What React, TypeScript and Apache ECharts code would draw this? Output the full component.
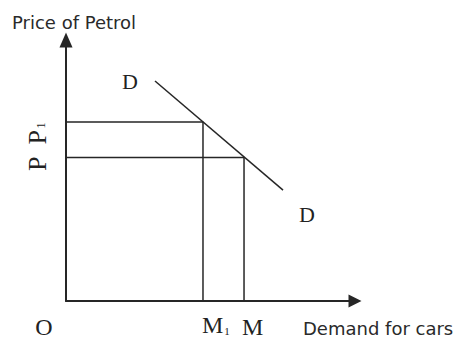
import React, { useEffect, useRef } from "react";
import * as echarts from "echarts";

// Data (abstract units on hidden value axes, 0..10)
const demandX = [3.08, 7.51];
const demandY = [8.43, 4.25];
const quantityLevels = [4.74, 6.16]; // M1, M
const priceLevels = [6.86, 5.5]; // P1, P
const axisMax = 10;

const LINE = "#262626";
const SERIF = "'Liberation Serif', 'Times New Roman', serif";
const SANS = "'DejaVu Sans', sans-serif";

export default function App() {
  const ref = useRef<HTMLDivElement>(null);
  useEffect(() => {
    if (!ref.current) return;
    const chart = echarts.init(ref.current, undefined, { renderer: "svg" });
    const guide = (i: number) => [
      [0, priceLevels[i]],
      [quantityLevels[i], priceLevels[i]],
      [quantityLevels[i], 0],
    ];
    chart.setOption({
      animation: false,
      backgroundColor: "#ffffff",
      grid: { left: 66, right: 103, top: 40, bottom: 38 },
      xAxis: {
        type: "value",
        min: 0,
        max: axisMax,
        splitLine: { show: false },
        axisTick: { show: false },
        axisLabel: { show: false },
        axisLine: {
          show: true,
          symbol: ["none", "triangle"],
          symbolSize: [13, 13],
          lineStyle: { color: LINE, width: 2 },
        },
      },
      yAxis: {
        type: "value",
        min: 0,
        max: axisMax,
        splitLine: { show: false },
        axisTick: { show: false },
        axisLabel: { show: false },
        axisLine: {
          show: true,
          symbol: ["none", "triangle"],
          symbolSize: [13, 15],
          lineStyle: { color: LINE, width: 2 },
        },
      },
      series: [
        {
          type: "line",
          data: demandX.map((x, i) => [x, demandY[i]]),
          symbol: "none",
          lineStyle: { color: LINE, width: 1.5 },
        },
        {
          type: "line",
          data: guide(0),
          symbol: "none",
          lineStyle: { color: LINE, width: 1.5 },
        },
        {
          type: "line",
          data: guide(1),
          symbol: "none",
          lineStyle: { color: LINE, width: 1.5 },
        },
      ],
      graphic: [
        {
          type: "text",
          x: 12,
          y: 22,
          style: {
            text: "Price of Petrol",
            font: `18px ${SANS}`,
            fill: "#2a2a2a",
            align: "left",
            verticalAlign: "middle",
          },
        },
        {
          type: "text",
          x: 303,
          y: 328,
          style: {
            text: "Demand for cars",
            font: `18px ${SANS}`,
            fill: "#2a2a2a",
            align: "left",
            verticalAlign: "middle",
            lineHeight: 18,
          },
        },
        {
          type: "text",
          x: 44,
          y: 327,
          style: {
            text: "O",
            font: `24px ${SERIF}`,
            fill: "#222",
            align: "center",
            verticalAlign: "middle",
            lineHeight: 20,
          },
        },
        {
          type: "text",
          x: 202,
          y: 327,
          style: {
            text: "{m|M}{s|1}",
            fill: "#222",
            align: "left",
            verticalAlign: "middle",
            rich: {
              m: { fontFamily: SERIF, fontSize: 24, fill: "#222", verticalAlign: "bottom", lineHeight: 20 },
              s: { fontFamily: SERIF, fontSize: 11, fill: "#222", verticalAlign: "bottom", lineHeight: 12, padding: [0, 0, 1, 1] },
            },
          },
        },
        {
          type: "text",
          x: 242,
          y: 327,
          style: {
            text: "M",
            font: `24px ${SERIF}`,
            fill: "#222",
            align: "left",
            verticalAlign: "middle",
            lineHeight: 20,
          },
        },
        {
          type: "text",
          x: 122,
          y: 81,
          style: {
            text: "D",
            font: `22px ${SERIF}`,
            fill: "#222",
            align: "left",
            verticalAlign: "middle",
          },
        },
        {
          type: "text",
          x: 299,
          y: 214,
          style: {
            text: "D",
            font: `22px ${SERIF}`,
            fill: "#222",
            align: "left",
            verticalAlign: "middle",
          },
        },
        {
          type: "text",
          x: 37,
          y: 147,
          rotation: Math.PI / 2,
          style: {
            text: "{m|P  P}{s|1}",
            fill: "#222",
            align: "center",
            verticalAlign: "middle",
            rich: {
              m: { fontFamily: SERIF, fontSize: 26, fill: "#222", verticalAlign: "bottom" },
              s: { fontFamily: SERIF, fontSize: 12, fill: "#222", verticalAlign: "bottom", padding: [0, 0, 3, 1] },
            },
          },
        },
      ],
    });
    return () => chart.dispose();
  }, []);
  return (
    <div
      ref={ref}
      style={{ position: "fixed", left: 0, top: 0, width: 458, height: 339, background: "#fff" }}
    />
  );
}
